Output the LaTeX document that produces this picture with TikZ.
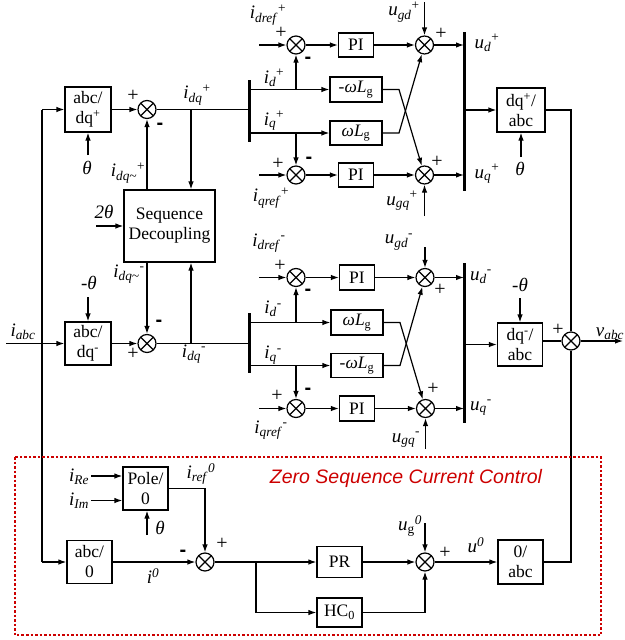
\documentclass[tikz,border=0pt]{standalone}
\usepackage{fontspec}
\setmainfont{Liberation Serif}
\newfontfamily\sansf{Liberation Sans}
\usetikzlibrary{arrows.meta}
\definecolor{zred}{RGB}{204,0,0}
\newcommand\sg[3]{\textit{#1}\textsubscript{\textit{#2}}\textsuperscript{#3}}
\newcommand\mn{{\sansf\bfseries -}}
\newcommand\wl{\textit{ωL}\textsubscript{g}}
\begin{document}
\begin{tikzpicture}[x=1pt,y=-1pt,line width=1.2pt,
  every node/.style={font=\fontsize{17.5}{20}\selectfont},
  blk/.style={draw,inner sep=0pt,align=center,line width=1.2pt},
  lbl/.style={inner sep=0pt,font=\fontsize{19}{21}\selectfont},
  sgn/.style={inner sep=0pt,font=\fontsize{20}{22}\selectfont},
  arr/.style={-{Latex[length=8pt,width=5.5pt]}},
  bus/.style={line width=3pt},
  sumnode/.style={circle,draw,line width=1.2pt,minimum size=18pt,inner sep=0pt,
    path picture={\draw[line width=1.2pt] (path picture bounding box.north west)--(path picture bounding box.south east)
      (path picture bounding box.north east)--(path picture bounding box.south west);}}]
\useasboundingbox (0,0) rectangle (624,640);

% ---------- boxes ----------
\node[blk,minimum width=46pt,minimum height=45pt] (abcP) at (88,109.5) {abc/\\dq\textsuperscript{+}};
\node[blk,minimum width=46pt,minimum height=43pt] (abcM) at (88,343.5) {abc/\\dq\textsuperscript{-}};
\node[blk,minimum width=91pt,minimum height=72pt] (sd) at (169.5,226) {Sequence\\Decoupling};
\node[blk,minimum width=35pt,minimum height=24pt] (PIdP) at (356,45) {PI};
\node[blk,minimum width=52pt,minimum height=25pt] (wLdP) at (356,89.5) {-\wl};
\node[blk,minimum width=52pt,minimum height=24pt] (wLqP) at (356,133) {\wl};
\node[blk,minimum width=35pt,minimum height=24pt] (PIqP) at (356,175) {PI};
\node[blk,minimum width=48pt,minimum height=44pt] (dqP) at (521,110) {dq\textsuperscript{+}/\\abc};
\node[blk,minimum width=35pt,minimum height=25pt] (PIdM) at (357,277.5) {PI};
\node[blk,minimum width=52pt,minimum height=25pt] (wLdM) at (357,322.5) {\wl};
\node[blk,minimum width=52pt,minimum height=24pt] (wLqM) at (357,365.5) {-\wl};
\node[blk,minimum width=35pt,minimum height=25pt] (PIqM) at (357,408.5) {PI};
\node[blk,minimum width=45pt,minimum height=43pt] (dqM) at (520,344.5) {dq\textsuperscript{-}/\\abc};
\node[blk,minimum width=45pt,minimum height=43pt] (pole) at (145.5,488.5) {Pole/\\0};
\node[blk,minimum width=45pt,minimum height=43pt] (abc0) at (89.5,562) {abc/\\0};
\node[blk,minimum width=45pt,minimum height=31pt] (PR) at (339.5,562) {PR};
\node[blk,minimum width=45pt,minimum height=29pt] (HC) at (339.5,612.5) {HC\textsubscript{0}};
\node[blk,minimum width=45pt,minimum height=44pt] (zabc) at (520.5,562) {0/\\abc};

% ---------- summing junctions ----------
\node[sumnode] (sP) at (147,109.5) {};
\node[sumnode] (sM) at (147,343.5) {};
\node[sumnode] (sdP) at (296,45) {};
\node[sumnode] (sqP) at (296,175) {};
\node[sumnode] (sdM) at (296,277.5) {};
\node[sumnode] (sqM) at (296,408.5) {};
\node[sumnode] (udP) at (424.5,45) {};
\node[sumnode] (uqP) at (424.5,175) {};
\node[sumnode] (udM) at (425,277.5) {};
\node[sumnode] (uqM) at (425.5,408.5) {};
\node[sumnode] (sv) at (571,341) {};
\node[sumnode] (s0) at (205,562) {};
\node[sumnode] (su0) at (425,562) {};

% ---------- buses ----------
\coordinate (b1) at (249,80);  \coordinate (b1e) at (249,142);
\coordinate (b2) at (249,313); \coordinate (b2e) at (249,373);
\coordinate (bR1) at (464,32); \coordinate (bR1e) at (464,191);
\coordinate (bR2) at (464,263); \coordinate (bR2e) at (464,423);
\draw[bus] (b1) -- (b1e);
\draw[bus] (b2) -- (b2e);
\draw[bus] (bR1) -- (bR1e);
\draw[bus] (bR2) -- (bR2e);

% ---------- labels ----------
\node[lbl] (LidrefP) at (268,15) {\sg{i}{dref}{+}};
\node[lbl] (LidP) at (274,78) {\sg{i}{d}{+}};
\node[lbl] (LiqP) at (274,121) {\sg{i}{q}{+}};
\node[lbl] (LiqrefP) at (271,198) {\sg{i}{qref}{+}};
\node[lbl] (LidqP) at (197,95) {\sg{i}{dq}{+}};
\node[lbl] (Lth1) at (87,168) {\textit{θ}};
\node[lbl] (LidqtP) at (128,173) {\sg{i}{dq\textasciitilde}{+}};
\node[lbl] (Lth2) at (104,212) {\textit{2θ}};
\node[lbl] (LidqtM) at (129,274) {\sg{i}{dq\textasciitilde}{-}};
\node[lbl] (Lmth1) at (89,283) {-\textit{θ}};
\node[lbl] (Liabc) at (23,332) {\textit{i}\textsubscript{\textit{abc}}};
\node[lbl] (LidqM) at (194,354) {\sg{i}{dq}{-}};
\node[lbl] (LidM) at (273,309) {\sg{i}{d}{-}};
\node[lbl] (LiqM) at (273,355) {\sg{i}{q}{-}};
\node[lbl] (LidrefM) at (269,243) {\sg{i}{dref}{-}};
\node[lbl] (LiqrefM) at (271,430) {\sg{i}{qref}{-}};
\node[lbl] (LugdP) at (404,12) {\sg{u}{gd}{+}};
\node[lbl] (LudP) at (487,43) {\sg{u}{d}{+}};
\node[lbl] (LuqP) at (487,174) {\sg{u}{q}{+}};
\node[lbl] (LugqP) at (402,201) {\sg{u}{gq}{+}};
\node[lbl] (Lth3) at (520,169) {\textit{θ}};
\node[lbl] (LugdM) at (399,242) {\sg{u}{gd}{-}};
\node[lbl] (LudM) at (481,277) {\sg{u}{d}{-}};
\node[lbl] (LuqM) at (481,408) {\sg{u}{q}{-}};
\node[lbl] (LugqM) at (406,440) {\sg{u}{gq}{-}};
\node[lbl] (Lmth2) at (520,285) {-\textit{θ}};
\node[lbl] (Lvabc) at (610,334) {\textit{v}\textsubscript{\textit{abc}}};
\node[lbl] (LiRe) at (79,477) {\textit{i}\textsubscript{\textit{Re}}};
\node[lbl] (LiIm) at (79,501) {\textit{i}\textsubscript{\textit{Im}}};
\node[lbl] (Lth4) at (160,528) {\textit{θ}};
\node[lbl] (Liref0) at (201,474) {\textit{i}\textsubscript{\textit{ref}}\textsuperscript{\textit{0}}};
\node[lbl] (Li0) at (153,576) {\textit{i}\textsuperscript{\textit{0}}};
\node[lbl] (Lug0) at (410,526) {\textit{u}\textsubscript{g}\textsuperscript{\textit{0}}};
\node[lbl] (Lu0) at (476,545) {\textit{u}\textsuperscript{\textit{0}}};

% ---------- signs ----------
\node[sgn] (g1) at (133,96) {+};   \node[sgn] (g2) at (160,126) {\mn};
\node[sgn] (g3) at (159,323) {\mn}; \node[sgn] (g4) at (133,354) {+};
\node[sgn] (g5) at (281,33) {+};   \node[sgn] (g6) at (308,60) {\mn};
\node[sgn] (g7) at (278,164) {+};  \node[sgn] (g8) at (309,160) {\mn};
\node[sgn] (g9) at (280,266) {+};  \node[sgn] (g10) at (308,292) {\mn};
\node[sgn] (g11) at (277,396) {+}; \node[sgn] (g12) at (308,391) {\mn};
\node[sgn] (g13) at (441,34) {+};  \node[sgn] (g14) at (437,162) {+};
\node[sgn] (g15) at (440,290) {+}; \node[sgn] (g16) at (433,389) {+};
\node[sgn] (g17) at (558,330) {+};
\node[sgn] (g18) at (183,553) {\mn}; \node[sgn] (g19) at (222,544) {+};
\node[sgn] (g20) at (445,553) {+};

% ---------- left part ----------
\coordinate (in) at (6,343.5);
\coordinate (jt) at (42,109.5);
\coordinate (jb) at (42,562);
\draw[arr] (in) -- (abcM.west);
\draw (jt) -- (jb);
\draw[arr] (jt) -- (abcP.west);
\draw[arr] (jb) -- (abc0.west);
\coordinate (th1s) at (88,155);
\draw[arr] (th1s) -- (abcP.south);
\coordinate (mth1s) at (88,297);
\draw[arr] (mth1s) -- (abcM.north);
\draw[arr] (abcP) -- (sP);
\draw[arr] (abcM) -- (sM);
\draw (sP) -- (sP -| b1);
\draw (sM) -- (sM -| b2);
\coordinate (brP) at (191,109.5);
\coordinate (brM) at (191,343.5);
\draw[arr] (brP) -- (brP |- sd.north);
\draw[arr] (brM) -- (brM |- sd.south);
\draw[arr] (sP |- sd.north) -- (sP.south);
\draw[arr] (sM |- sd.south) -- (sM.north);
\coordinate (th2s) at (96,226);
\draw[arr] (th2s) -- (sd.west);

% ---------- positive sequence ----------
\coordinate (rdP) at (259,45);
\coordinate (rqP) at (259,175);
\draw[arr] (rdP) -- (sdP.west);
\draw[arr] (rqP) -- (sqP.west);
\draw[arr] (b1 |- wLdP) -- (wLdP.west);
\draw[arr] (b1 |- wLqP) -- (wLqP.west);
\draw[arr] (sdP |- wLdP) -- (sdP.south);
\draw[arr] (sqP |- wLqP) -- (sqP.north);
\draw[arr] (sdP) -- (PIdP);
\draw[arr] (sqP) -- (PIqP);
\draw[arr] (PIdP) -- (udP);
\draw[arr] (PIqP) -- (uqP);
\coordinate (kdP) at (399,89.5);
\coordinate (kqP) at (399,133);
\draw[arr] (wLdP.east) -- (kdP) -- (uqP);
\draw[arr] (wLqP.east) -- (kqP) -- (udP);
\coordinate (ugdP) at (424.5,2);
\coordinate (ugqP) at (424.5,216);
\draw[arr] (ugdP) -- (udP.north);
\draw[arr] (ugqP) -- (uqP.south);
\draw[arr] (udP) -- (udP -| bR1);
\draw[arr] (uqP) -- (uqP -| bR1);
\draw[arr] (bR1 |- dqP) -- (dqP.west);
\coordinate (th3s) at (521,157);
\draw[arr] (th3s) -- (dqP.south);

% ---------- negative sequence ----------
\coordinate (rdM) at (259,277.5);
\coordinate (rqM) at (259,408.5);
\draw[arr] (rdM) -- (sdM.west);
\draw[arr] (rqM) -- (sqM.west);
\draw[arr] (b2 |- wLdM) -- (wLdM.west);
\draw[arr] (b2 |- wLqM) -- (wLqM.west);
\draw[arr] (sdM |- wLdM) -- (sdM.south);
\draw[arr] (sqM |- wLqM) -- (sqM.north);
\draw[arr] (sdM) -- (PIdM);
\draw[arr] (sqM) -- (PIqM);
\draw[arr] (PIdM) -- (udM);
\draw[arr] (PIqM) -- (uqM);
\coordinate (kdM) at (400,322.5);
\coordinate (kqM) at (400,365.5);
\draw[arr] (wLdM.east) -- (kdM) -- (uqM);
\draw[arr] (wLqM.east) -- (kqM) -- (udM);
\coordinate (ugdM) at (425,247);
\coordinate (ugqM) at (425.5,449);
\draw[arr] (ugdM) -- (udM.north);
\draw[arr] (ugqM) -- (uqM.south);
\draw[arr] (udM) -- (udM -| bR2);
\draw[arr] (uqM) -- (uqM -| bR2);
\draw[arr] (bR2 |- dqM) -- (dqM.west);
\coordinate (mth2s) at (520,298);
\draw[arr] (mth2s) -- (dqM.north);

% ---------- output ----------
\draw (dqP.east) -- (sv |- dqP.east) -- (sv.north);
\draw (dqM.east |- sv) -- (sv.west);
\draw (zabc.east) -- (sv |- zabc.east) -- (sv.south);
\coordinate (vout) at (623,341);
\draw[arr] (sv) -- (vout);

% ---------- zero sequence ----------
\coordinate (re) at (91,476);
\coordinate (im) at (91,500.5);
\draw[arr] (re) -- (re -| pole.west);
\draw[arr] (im) -- (im -| pole.west);
\coordinate (th4s) at (147,535);
\draw[arr] (th4s) -- (th4s |- pole.south);
\draw[arr] (pole.east) -| (s0.north);
\draw[arr] (abc0) -- (s0);
\draw[arr] (s0) -- (PR);
\coordinate (br0) at (256,562);
\draw[arr] (br0) |- (HC.west);
\draw[arr] (PR) -- (su0);
\draw[arr] (HC.east) -| (su0.south);
\coordinate (ug0s) at (425,523);
\draw[arr] (ug0s) -- (su0.north);
\draw[arr] (su0) -- (zabc);

% ---------- zero-sequence frame ----------
\draw[zred,line width=1.5pt,dash pattern=on 2.5pt off 2pt] (15,457) rectangle (601,635);
\node[lbl,text=zred,font=\sansf\itshape\fontsize{19.5}{21}\selectfont] (ztitle) at (406,478) {Zero Sequence Current Control};
\end{tikzpicture}
\end{document}
